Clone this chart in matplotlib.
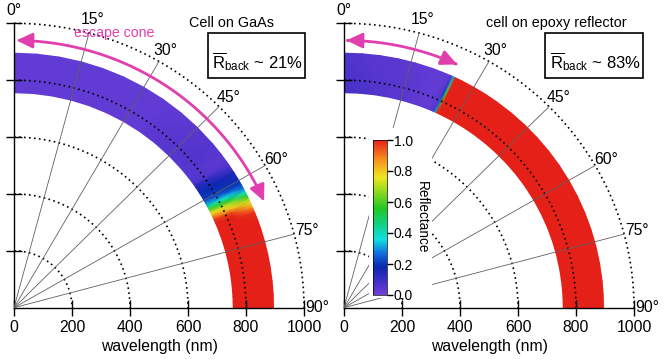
import numpy as np
import matplotlib
matplotlib.use('Agg')
import matplotlib.pyplot as plt
from matplotlib.colors import LinearSegmentedColormap
from matplotlib.patches import Rectangle, FancyArrowPatch
from matplotlib.path import Path
from matplotlib.ticker import FormatStrFormatter

plt.rcParams['font.family'] = ['Liberation Sans', 'DejaVu Sans']
plt.rcParams['mathtext.fontset'] = 'custom'
plt.rcParams['mathtext.rm'] = 'Liberation Sans'
plt.rcParams['mathtext.it'] = 'Liberation Sans:italic'

# ---- data -------------------------------------------------------------
# band of the plot: wavelength nodes (nm), inner edge .. outer edge
wl_nodes = [756, 825, 895]

# cell on GaAs
gaas_angles = [0, 5, 10, 15, 20, 25, 30, 35, 40, 45, 50, 53, 55, 56, 58,
               60, 61, 62, 63, 64, 65, 66, 67, 68, 70, 72, 75, 78, 81, 84,
               87, 90]
gaas_R = [
    [0.03, 0.03, 0.03, 0.03, 0.03, 0.03, 0.03, 0.03, 0.04, 0.05, 0.05, 0.05,
     0.07, 0.15, 0.19, 0.21, 0.30, 0.45, 0.62, 0.78, 0.90, 0.98, 1.0, 1.0,
     1.0, 1.0, 1.0, 1.0, 1.0, 1.0, 1.0, 1.0],
    [0.03, 0.03, 0.03, 0.03, 0.03, 0.03, 0.03, 0.03, 0.04, 0.05, 0.06, 0.04,
     0.05, 0.10, 0.18, 0.20, 0.24, 0.36, 0.55, 0.72, 0.80, 0.95, 1.0, 1.0,
     1.0, 1.0, 1.0, 1.0, 1.0, 1.0, 1.0, 1.0],
    [0.03, 0.03, 0.03, 0.03, 0.03, 0.03, 0.03, 0.03, 0.03, 0.04, 0.05, 0.04,
     0.04, 0.05, 0.15, 0.19, 0.21, 0.26, 0.38, 0.55, 0.70, 0.78, 0.88, 0.98,
     1.0, 1.0, 1.0, 1.0, 1.0, 1.0, 1.0, 1.0],
]

# cell on epoxy reflector
epoxy_angles = [0, 4, 8, 12, 16, 20, 23, 24.0, 24.5, 25.0, 25.5, 27, 30,
                33, 36, 40, 44, 48, 52, 56, 60, 64, 68, 72, 76, 80, 84, 87,
                90]
epoxy_R = [
    [0.08, 0.07, 0.06, 0.05, 0.04, 0.03, 0.03, 0.05, 0.32, 1.0, 1.0, 1.0,
     1.0, 1.0, 1.0, 1.0, 1.0, 1.0, 1.0, 1.0, 1.0, 1.0, 1.0, 1.0, 1.0, 1.0,
     1.0, 1.0, 1.0],
    [0.07, 0.06, 0.05, 0.04, 0.04, 0.03, 0.03, 0.04, 0.20, 0.60, 1.0, 1.0,
     1.0, 1.0, 1.0, 1.0, 1.0, 1.0, 1.0, 1.0, 1.0, 1.0, 1.0, 1.0, 1.0, 1.0,
     1.0, 1.0, 1.0],
    [0.06, 0.05, 0.04, 0.04, 0.03, 0.03, 0.03, 0.03, 0.05, 0.32, 1.0, 1.0,
     1.0, 1.0, 1.0, 1.0, 1.0, 1.0, 1.0, 1.0, 1.0, 1.0, 1.0, 1.0, 1.0, 1.0,
     1.0, 1.0, 1.0],
]

titles = ['Cell on GaAs', 'cell on epoxy reflector']
r_back = ['21%', '83%']
cone_deg = [66.5, 24.5]

grid_r = [200, 400, 600, 800, 1000]
spoke_deg = [15, 30, 45, 60, 75]
angle_labels = [0, 15, 30, 45, 60, 75, 90]
wl_ticks = [0, 200, 400, 600, 800, 1000]
cb_ticks = [0.0, 0.2, 0.4, 0.6, 0.8, 1.0]

cmap = LinearSegmentedColormap.from_list('refl', [
    (0.00, '#7040d8'), (0.08, '#4430c8'), (0.18, '#0c26b0'),
    (0.27, '#1070e0'), (0.36, '#10e0e0'), (0.46, '#10d080'),
    (0.56, '#22c822'), (0.66, '#88d820'), (0.76, '#f0e620'),
    (0.88, '#f88c20'), (1.00, '#e42018')])

MAG = '#e23fae'
W, H = 664, 361


def fx(px):
    return px / W


def fy(py):
    return 1 - py / H


fig = plt.figure(figsize=(W / 100, H / 100), dpi=100)

panels = [(14, gaas_angles, gaas_R), (344, epoxy_angles, epoxy_R)]
for i, (x0, angs, R) in enumerate(panels):
    ax = fig.add_axes([fx(x0), fy(307.7), 290 / W, 284.4 / H])
    ax.set_xlim(0, 1000)
    ax.set_ylim(0, 1000)
    for s in ['top', 'right']:
        ax.spines[s].set_visible(False)
    for s in ['left', 'bottom']:
        ax.spines[s].set_linewidth(1.0)

    th = np.radians(np.array(angs))[None, :]
    r = np.array(wl_nodes, dtype=float)[:, None]
    mesh = ax.pcolormesh(r * np.sin(th), r * np.cos(th), np.array(R),
                         cmap=cmap, vmin=0, vmax=1, shading='gouraud',
                         zorder=1)

    t = np.radians(np.linspace(0, 90, 240))
    for rr in grid_r:
        ax.plot(rr * np.sin(t), rr * np.cos(t), color='k', lw=1.2,
                ls=(0, (1, 2)), zorder=3, clip_on=False)
    for a in spoke_deg:
        ar = np.radians(a)
        ax.plot([0, 1000 * np.sin(ar)], [0, 1000 * np.cos(ar)],
                color='#606060', lw=0.6, zorder=3)
    for a in angle_labels:
        ar = np.radians(a)
        rl = 1050 if a == 15 else 1045
        ax.text(rl * np.sin(ar), rl * np.cos(ar), f'{a}°',
                ha='center', va='center', fontsize=11.3)

    # escape cone arrow
    ta = np.radians(np.linspace(0.5, cone_deg[i], 120))
    arc = Path(np.column_stack([940 * np.sin(ta), 940 * np.cos(ta)]))
    ax.add_patch(FancyArrowPatch(path=arc,
                                 arrowstyle='<|-|>,head_length=0.8,head_width=0.38',
                                 mutation_scale=12, color=MAG, lw=2,
                                 zorder=4, clip_on=False))

    ax.set_xticks(wl_ticks)
    ax.set_yticks(grid_r)
    ax.set_yticklabels([])
    ax.tick_params(direction='inout', length=11, width=1.0,
                   labelsize=11.3, pad=3)
    ax.set_xlabel('wavelength (nm)', fontsize=11.3, labelpad=3)

fig.text(fx(231.5), fy(23), titles[0], ha='center', va='center',
         fontsize=10.4)
fig.text(fx(556), fy(23), titles[1], ha='center', va='center',
         fontsize=10.4)
fig.text(fx(114), fy(33), 'escape cone', ha='center', va='center',
         fontsize=10.2, color=MAG)

for bx, tx, val in [(207.7, 211.5, r_back[0]), (545, 549.5, r_back[1])]:
    fig.add_artist(Rectangle((fx(bx), fy(78.3)), 97.5 / W, 45 / H,
                             transform=fig.transFigure, fill=False,
                             lw=1.2, ec='k', zorder=3))
    fig.text(fx(tx), fy(68.5), r'$\overline{\mathrm{R}}_{\mathrm{back}}$ ~ ' + val,
             ha='left', va='baseline', fontsize=12)

# colorbar on a white patch
fig.add_artist(Rectangle((fx(369), fy(298)), 63 / W, 170 / H,
                         transform=fig.transFigure, fc='white', ec='none',
                         zorder=1))
cax = fig.add_axes([fx(372.5), fy(295), 14.5 / W, 155 / H])
cax.set_zorder(2)
cb = fig.colorbar(mesh, cax=cax, ticks=cb_ticks)
cb.outline.set_linewidth(0.5)
cb.ax.yaxis.set_major_formatter(FormatStrFormatter('%.1f'))
cb.ax.tick_params(direction='out', length=4, width=1.0, labelsize=10, pad=1)
fig.text(fx(422), fy(217.5), 'Reflectance', rotation=270, ha='center',
         va='center', fontsize=9.8)

fig.savefig('out.png', dpi=100)
